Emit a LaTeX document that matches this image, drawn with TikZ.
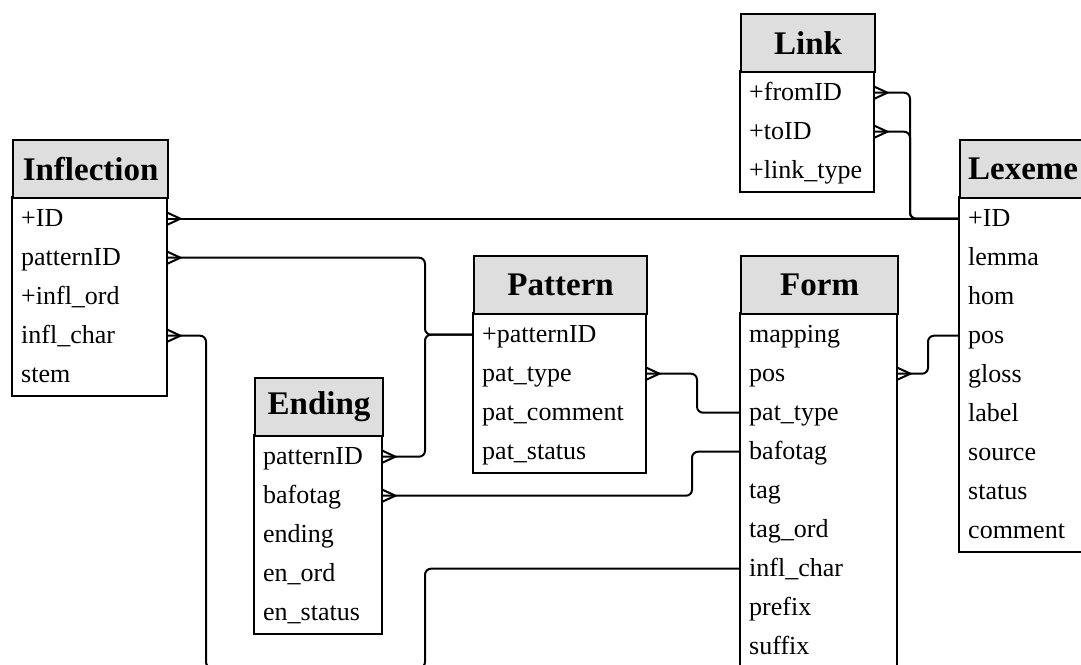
\documentclass[tikz,border=0pt]{standalone}
\usepackage{fontspec}
\setmainfont{Liberation Serif}
\usetikzlibrary{calc}
\definecolor{hdrgray}{HTML}{DEDEDE}
\tikzset{
 hdr/.style={draw=black, line width=2.2pt, fill=hdrgray, minimum height=58pt, inner sep=0pt, font=\fontsize{33}{38}\selectfont\bfseries},
 entbody/.style={draw=black, line width=2.2pt, fill=white},
 row/.style={minimum height=39pt, inner sep=0pt, font=\fontsize{26}{30}\selectfont, align=left, text height=20pt, text depth=4pt},
 conn/.style={line width=2pt, rounded corners=6pt},
 crow/.style={line width=2pt, line join=miter},
}
\newcommand{\entity}[7]{% name, x, y, w, title, n, rows
 \pgfmathsetmacro\entHB{#3+58}
 \pgfmathsetmacro\entBB{#3+58+39*#6+4}
 \pgfmathsetmacro\entTW{#4-18}
 \draw[entbody] (#2,\entHB) rectangle (#2+#4,\entBB);
 \node[hdr, minimum width=#4pt, anchor=north west] (#1) at (#2,#3) {#5};
 \foreach \r [count=\i] in {#7} {
   \node[row, minimum width=#4pt, text width=\entTW pt, anchor=north west] (#1-\i) at (#2,\entHB+2+39*\i-39) {\r};
 }
}
\newcommand{\crowfoot}[1]{\draw[crow] ($(#1.east)+(0,-6)$) -- ($(#1.east)+(13,0)$) -- ($(#1.east)+(0,6)$);}
\begin{document}
\begin{tikzpicture}[x=1pt,y=-1pt]
\fill[white] (0,0) rectangle (1081,664);
\useasboundingbox (0,0) rectangle (1081,664);
\entity{Inflection}{12}{139}{155}{Inflection}{5}{+ID,patternID,+infl\_ord,infl\_char,stem}
\entity{Link}{740}{13}{134}{Link}{3}{+fromID,+toID,+link\_type}
\entity{Lexeme}{959}{139}{126}{Lexeme}{9}{+ID,lemma,hom,pos,gloss,label,source,status,comment}
\entity{Pattern}{473}{255}{173}{Pattern}{4}{+patternID,pat\_type,pat\_comment,pat\_status}
\entity{Form}{740}{255}{157}{Form}{9}{mapping,pos,pat\_type,bafotag,tag,tag\_ord,infl\_char,prefix,suffix}
\entity{Ending}{254}{377}{128}{Ending}{5}{patternID,bafotag,ending,en\_ord,en\_status}
\coordinate (lx) at (910,0);
\coordinate (px) at (425,0);
\coordinate (ix) at (206,668);
\coordinate (iy) at (425,668);
\coordinate (tx) at (697,0);
\coordinate (bx) at (692,0);
\coordinate (fx) at (928,0);
\draw[conn] (Inflection-1.east) -- (Lexeme-1.west);
\draw[conn] (Link-1.east) -| (lx |- Lexeme-1.west) -- (Lexeme-1.west);
\draw[conn] (Link-2.east) -| (lx |- Lexeme-1.west) -- (Lexeme-1.west);
\draw[conn] (Inflection-2.east) -| (px |- Pattern-1.west) -- (Pattern-1.west);
\draw[conn] (Ending-1.east) -| (px |- Pattern-1.west) -- (Pattern-1.west);
\draw[conn] (Inflection-4.east) -| (ix) -- (iy) |- (Form-7.west);
\draw[conn] (Pattern-2.east) -| (tx |- Form-3.west) -- (Form-3.west);
\draw[conn] (Ending-2.east) -| (bx |- Form-4.west) -- (Form-4.west);
\draw[conn] (Form-2.east) -| (fx |- Lexeme-4.west) -- (Lexeme-4.west);
\crowfoot{Inflection-1}
\crowfoot{Inflection-2}
\crowfoot{Inflection-4}
\crowfoot{Link-1}
\crowfoot{Link-2}
\crowfoot{Ending-1}
\crowfoot{Ending-2}
\crowfoot{Pattern-2}
\crowfoot{Form-2}
\end{tikzpicture}
\end{document}
